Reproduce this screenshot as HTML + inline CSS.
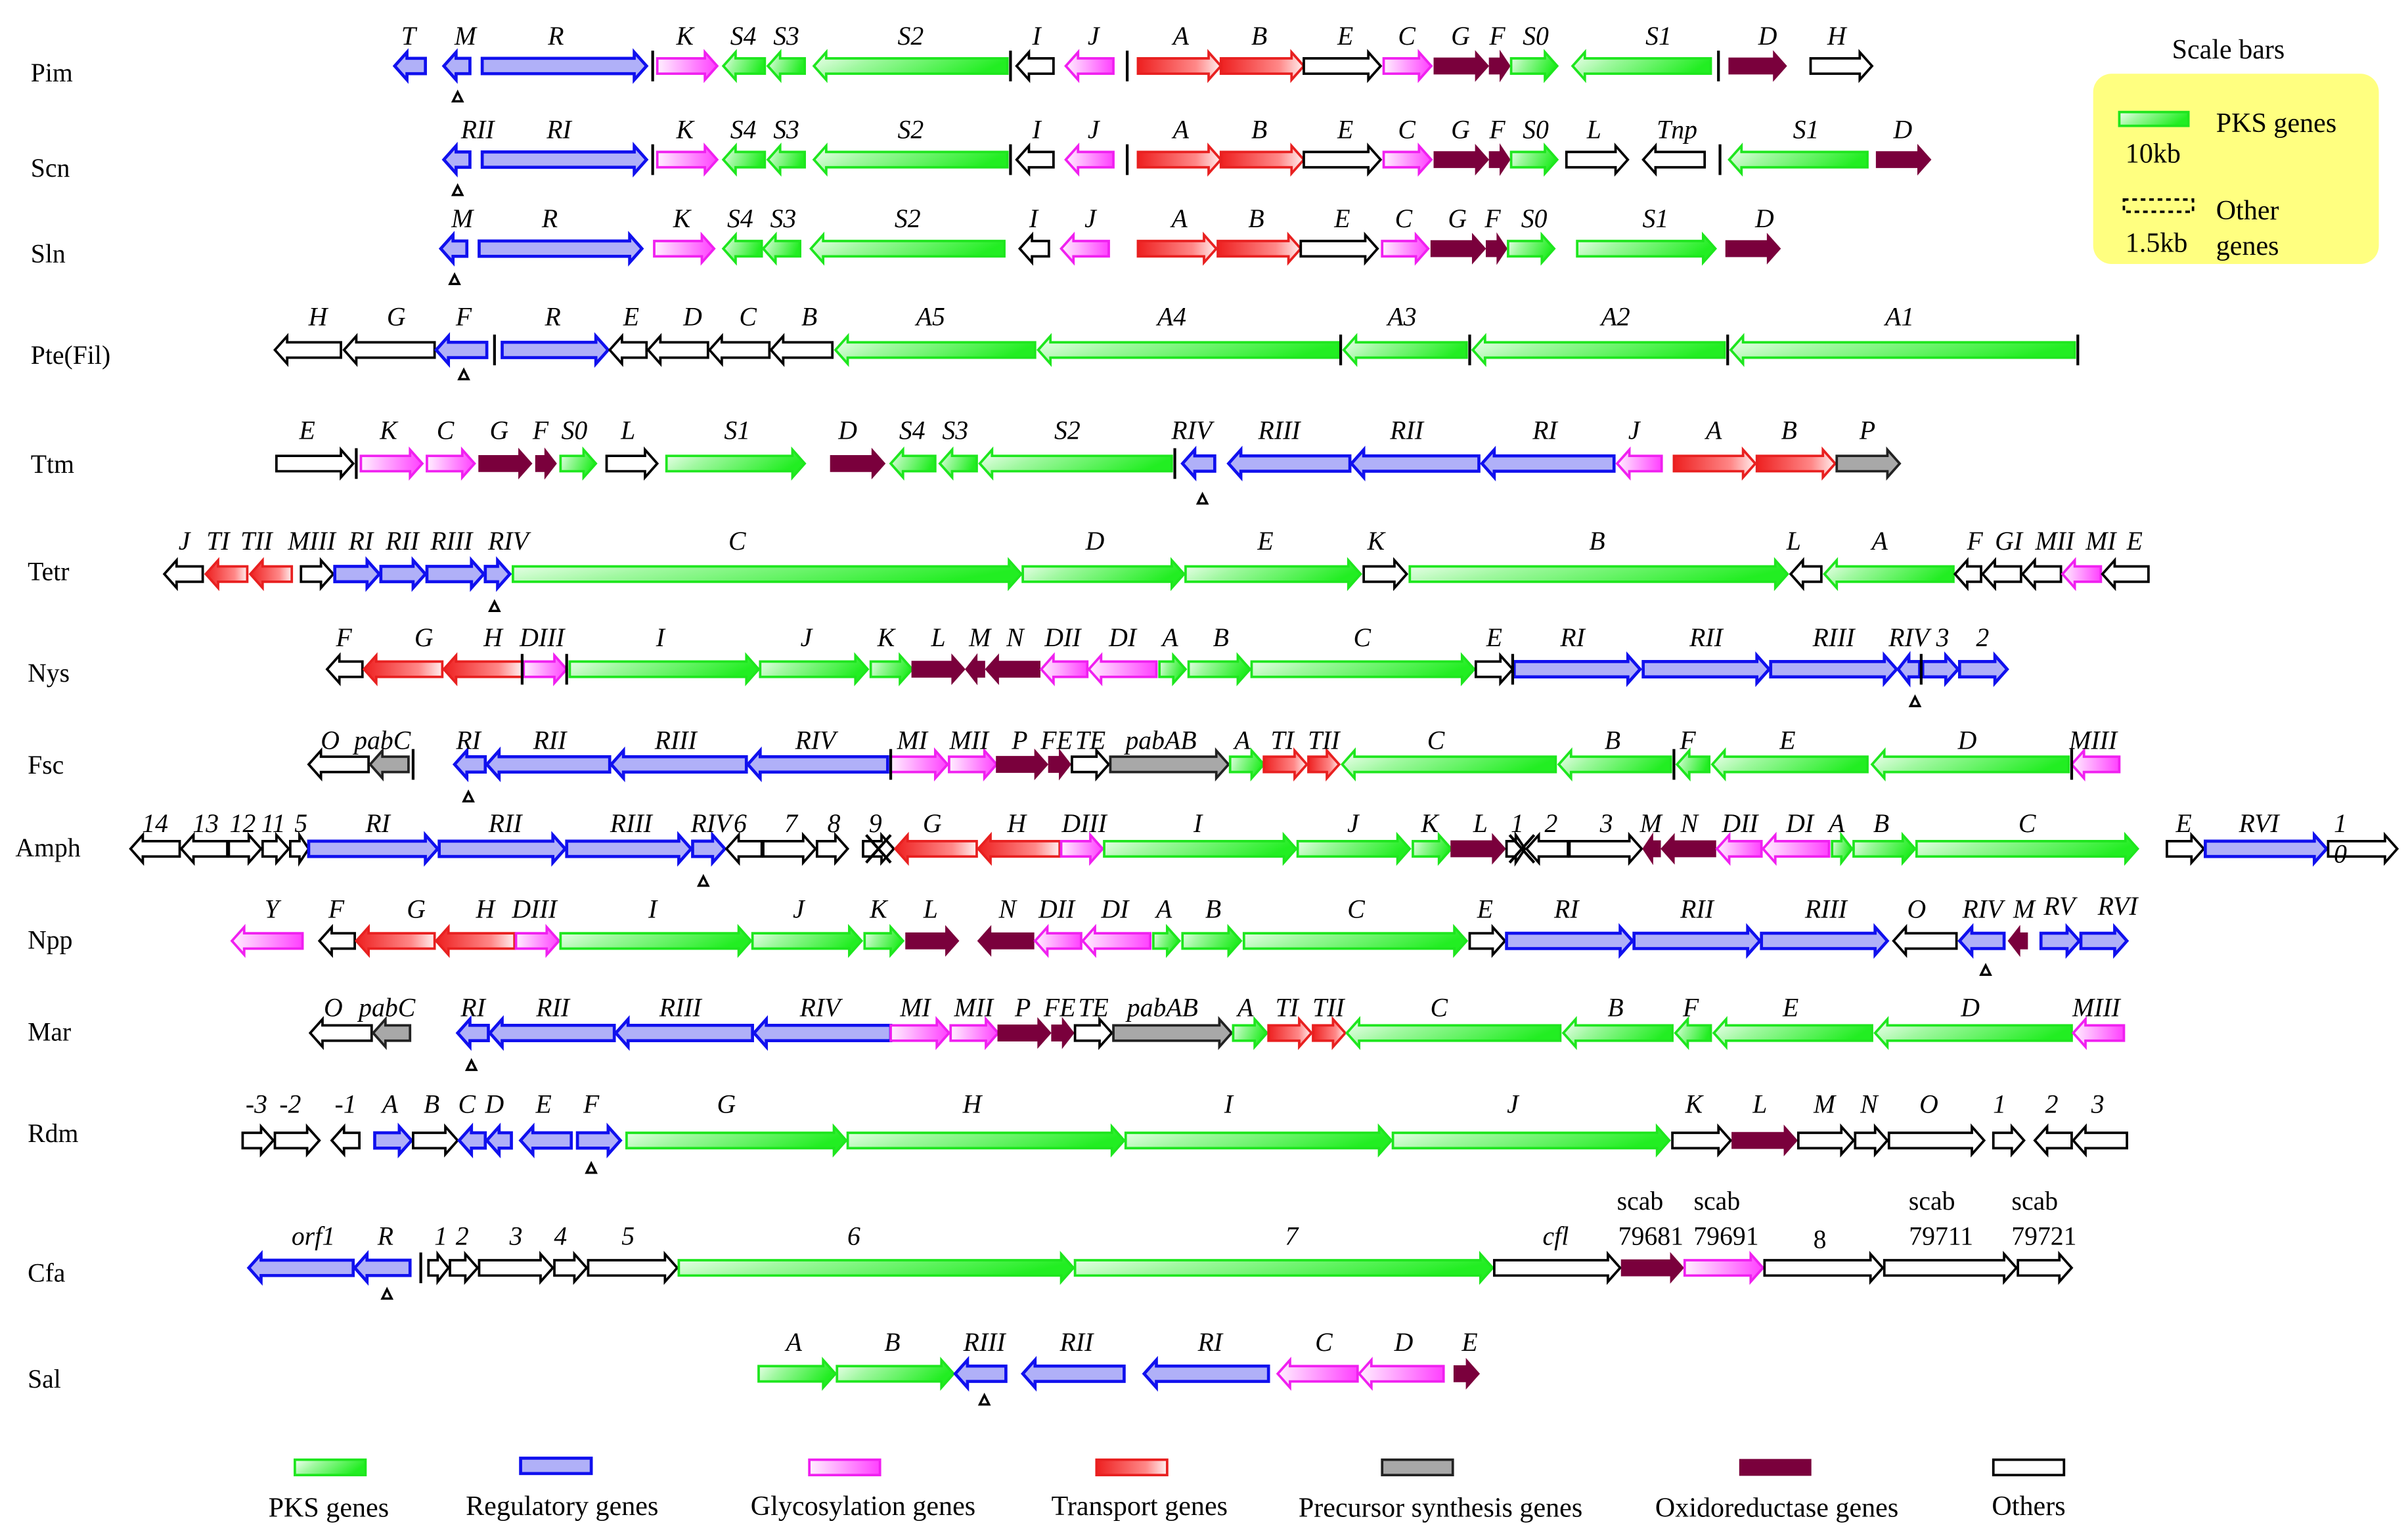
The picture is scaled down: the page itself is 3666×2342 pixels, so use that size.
<!DOCTYPE html>
<html><head><meta charset="utf-8"><style>
html,body{margin:0;padding:0;background:#fff;}
svg{display:block}
.g{fill:url(#gg);stroke:#1ee61e;stroke-width:1.6}
.b{fill:#b0b0f8;stroke:#1010ee;stroke-width:2}
.p{fill:url(#gp);stroke:#f020f0;stroke-width:1.6}
.r{fill:url(#gr);stroke:#e82020;stroke-width:1.6}
.m{fill:#7a003c;stroke:#7a003c;stroke-width:1}
.y{fill:#a8a8a8;stroke:#222;stroke-width:1.6}
.o{fill:#fff;stroke:#000;stroke-width:1.6}
text{font-family:"Liberation Serif",serif;fill:#000}
.l{font-style:italic;font-size:17px;text-anchor:middle}
.n{font-size:17px}
.t{fill:#fff;stroke:#000;stroke-width:1.5}
.bar{stroke:#000;stroke-width:1.8}
.lg{font-size:18px;text-anchor:middle}
</style></head><body>
<svg width="3666" height="2342" viewBox="0 0 1568 1002" preserveAspectRatio="none" xmlns="http://www.w3.org/2000/svg">
<defs>
<linearGradient id="gg" x1="0" y1="0" x2="1" y2="0.3"><stop offset="0" stop-color="#f4fff4"/><stop offset="0.35" stop-color="#9ff89f"/><stop offset="1" stop-color="#22ee22"/></linearGradient>
<linearGradient id="gp" x1="0" y1="0" x2="1" y2="0"><stop offset="0" stop-color="#fff0ff"/><stop offset="1" stop-color="#ff40ff"/></linearGradient>
<linearGradient id="gr" x1="0" y1="0" x2="1" y2="0"><stop offset="0" stop-color="#ee2020"/><stop offset="0.7" stop-color="#f88"/><stop offset="1" stop-color="#fff0f0"/></linearGradient>
</defs>

<g class="n">
<text x="20" y="53">Pim</text><text x="20" y="115">Scn</text><text x="20" y="171">Sln</text><text x="20" y="237">Pte(Fil)</text><text x="20" y="308">Ttm</text><text x="18" y="378">Tetr</text><text x="18" y="444">Nys</text><text x="18" y="504">Fsc</text><text x="10" y="558">Amph</text><text x="18" y="618">Npp</text><text x="18" y="678">Mar</text><text x="18" y="744">Rdm</text><text x="18" y="835">Cfa</text><text x="18" y="904">Sal</text>
</g>

<!-- Pim -->
<g transform="translate(0,43)">
<path class="b" d="M277 -5H265V-9L257 0L265 9V5H277Z"/>
<path class="b" d="M306 -5H297V-9L289 0L297 9V5H306Z"/>
<path class="b" d="M314 -5H413V-9L421 0L413 9V5H314Z"/>
<path class="p" d="M428 -5H459V-9L467 0L459 9V5H428Z"/>
<path class="g" d="M498 -5H479V-9L471 0L479 9V5H498Z"/>
<path class="g" d="M524 -5H508V-9L500 0L508 9V5H524Z"/>
<path class="g" d="M656 -5H538V-9L530 0L538 9V5H656Z"/>
<path class="o" d="M686 -5H670V-9L662 0L670 9V5H686Z"/>
<path class="p" d="M725 -5H702V-9L694 0L702 9V5H725Z"/>
<path class="r" d="M741 -5H787V-9L795 0L787 9V5H741Z"/>
<path class="r" d="M795 -5H841V-9L849 0L841 9V5H795Z"/>
<path class="o" d="M849 -5H891V-9L899 0L891 9V5H849Z"/>
<path class="p" d="M901 -5H924V-9L932 0L924 9V5H901Z"/>
<path class="m" d="M934 -5H961V-9L969 0L961 9V5H934Z"/>
<path class="m" d="M970 -5H977V-9L983 0L977 9V5H970Z"/>
<path class="g" d="M984 -5H1006V-9L1014 0L1006 9V5H984Z"/>
<path class="g" d="M1114 -5H1032V-9L1024 0L1032 9V5H1114Z"/>
<path class="m" d="M1126 -5H1155V-9L1163 0L1155 9V5H1126Z"/>
<path class="o" d="M1179 -5H1211V-9L1219 0L1211 9V5H1179Z"/>
<path class="bar" d="M425 -10V10M658 -10V10M734 -10V10M1119 -10V10"/>
<polygon class="t" points="295,23 298,17 301,23"/>
<g class="l"><text x="266" y="-14">T</text><text x="303" y="-14">M</text><text x="362" y="-14">R</text><text x="446" y="-14">K</text><text x="484" y="-14">S4</text><text x="512" y="-14">S3</text><text x="593" y="-14">S2</text><text x="675" y="-14">I</text><text x="712" y="-14">J</text><text x="769" y="-14">A</text><text x="820" y="-14">B</text><text x="876" y="-14">E</text><text x="916" y="-14">C</text><text x="951" y="-14">G</text><text x="975" y="-14">F</text><text x="1000" y="-14">S0</text><text x="1080" y="-14">S1</text><text x="1151" y="-14">D</text><text x="1196" y="-14">H</text></g>
</g>

<!-- Scn -->
<g transform="translate(0,104)">
<path class="b" d="M306 -5H297V-9L289 0L297 9V5H306Z"/>
<path class="b" d="M314 -5H413V-9L421 0L413 9V5H314Z"/>
<path class="p" d="M428 -5H459V-9L467 0L459 9V5H428Z"/>
<path class="g" d="M498 -5H479V-9L471 0L479 9V5H498Z"/>
<path class="g" d="M524 -5H508V-9L500 0L508 9V5H524Z"/>
<path class="g" d="M656 -5H538V-9L530 0L538 9V5H656Z"/>
<path class="o" d="M686 -5H670V-9L662 0L670 9V5H686Z"/>
<path class="p" d="M725 -5H702V-9L694 0L702 9V5H725Z"/>
<path class="r" d="M741 -5H787V-9L795 0L787 9V5H741Z"/>
<path class="r" d="M795 -5H841V-9L849 0L841 9V5H795Z"/>
<path class="o" d="M849 -5H891V-9L899 0L891 9V5H849Z"/>
<path class="p" d="M901 -5H924V-9L932 0L924 9V5H901Z"/>
<path class="m" d="M934 -5H961V-9L969 0L961 9V5H934Z"/>
<path class="m" d="M970 -5H977V-9L983 0L977 9V5H970Z"/>
<path class="g" d="M984 -5H1006V-9L1014 0L1006 9V5H984Z"/>
<path class="o" d="M1020 -5H1052V-9L1060 0L1052 9V5H1020Z"/>
<path class="o" d="M1110 -5H1078V-9L1070 0L1078 9V5H1110Z"/>
<path class="g" d="M1216 -5H1134V-9L1126 0L1134 9V5H1216Z"/>
<path class="m" d="M1222 -5H1249V-9L1257 0L1249 9V5H1222Z"/>
<path class="bar" d="M425 -10V10M658 -10V10M734 -10V10M1120 -10V10"/>
<polygon class="t" points="295,23 298,17 301,23"/>
<g class="l"><text x="311" y="-14">RII</text><text x="364" y="-14">RI</text><text x="446" y="-14">K</text><text x="484" y="-14">S4</text><text x="512" y="-14">S3</text><text x="593" y="-14">S2</text><text x="675" y="-14">I</text><text x="712" y="-14">J</text><text x="769" y="-14">A</text><text x="820" y="-14">B</text><text x="876" y="-14">E</text><text x="916" y="-14">C</text><text x="951" y="-14">G</text><text x="975" y="-14">F</text><text x="1000" y="-14">S0</text><text x="1038" y="-14">L</text><text x="1092" y="-14">Tnp</text><text x="1176" y="-14">S1</text><text x="1239" y="-14">D</text></g>
</g>

<!-- Sln -->
<g transform="translate(0,162)">
<path class="b" d="M304 -5H295V-9L287 0L295 9V5H304Z"/>
<path class="b" d="M312 -5H410V-9L418 0L410 9V5H312Z"/>
<path class="p" d="M426 -5H457V-9L465 0L457 9V5H426Z"/>
<path class="g" d="M496 -5H479V-9L471 0L479 9V5H496Z"/>
<path class="g" d="M521 -5H505V-9L497 0L505 9V5H521Z"/>
<path class="g" d="M654 -5H536V-9L528 0L536 9V5H654Z"/>
<path class="o" d="M683 -5H672V-9L664 0L672 9V5H683Z"/>
<path class="p" d="M722 -5H699V-9L691 0L699 9V5H722Z"/>
<path class="r" d="M741 -5H784V-9L792 0L784 9V5H741Z"/>
<path class="r" d="M793 -5H839V-9L847 0L839 9V5H793Z"/>
<path class="o" d="M847 -5H889V-9L897 0L889 9V5H847Z"/>
<path class="p" d="M900 -5H922V-9L930 0L922 9V5H900Z"/>
<path class="m" d="M932 -5H959V-9L967 0L959 9V5H932Z"/>
<path class="m" d="M968 -5H975V-9L981 0L975 9V5H968Z"/>
<path class="g" d="M982 -5H1004V-9L1012 0L1004 9V5H982Z"/>
<path class="g" d="M1027 -5H1109V-9L1117 0L1109 9V5H1027Z"/>
<path class="m" d="M1124 -5H1151V-9L1159 0L1151 9V5H1124Z"/>
<polygon class="t" points="293,23 296,17 299,23"/>
<g class="l"><text x="301" y="-14">M</text><text x="358" y="-14">R</text><text x="444" y="-14">K</text><text x="482" y="-14">S4</text><text x="510" y="-14">S3</text><text x="591" y="-14">S2</text><text x="673" y="-14">I</text><text x="710" y="-14">J</text><text x="768" y="-14">A</text><text x="818" y="-14">B</text><text x="874" y="-14">E</text><text x="914" y="-14">C</text><text x="949" y="-14">G</text><text x="972" y="-14">F</text><text x="999" y="-14">S0</text><text x="1078" y="-14">S1</text><text x="1149" y="-14">D</text></g>
</g>

<!-- Pte -->
<g transform="translate(0,228)">
<path class="o" d="M222 -5H187V-9L179 0L187 9V5H222Z"/>
<path class="o" d="M283 -5H232V-9L224 0L232 9V5H283Z"/>
<path class="b" d="M317 -5H292V-9L284 0L292 9V5H317Z"/>
<path class="b" d="M327 -5H388V-9L396 0L388 9V5H327Z"/>
<path class="o" d="M421 -5H405V-9L397 0L405 9V5H421Z"/>
<path class="o" d="M461 -5H430V-9L422 0L430 9V5H461Z"/>
<path class="o" d="M501 -5H470V-9L462 0L470 9V5H501Z"/>
<path class="o" d="M542 -5H510V-9L502 0L510 9V5H542Z"/>
<path class="g" d="M674 -5H552V-9L544 0L552 9V5H674Z"/>
<path class="g" d="M872 -5H684V-9L676 0L684 9V5H872Z"/>
<path class="g" d="M955 -5H883V-9L875 0L883 9V5H955Z"/>
<path class="g" d="M1123 -5H967V-9L959 0L967 9V5H1123Z"/>
<path class="g" d="M1351 -5H1135V-9L1127 0L1135 9V5H1351Z"/>
<path class="bar" d="M322 -10V10M873 -10V10M957 -10V10M1125 -10V10M1353 -10V10"/>
<polygon class="t" points="299,19 302,13 305,19"/>
<g class="l"><text x="207" y="-16">H</text><text x="258" y="-16">G</text><text x="302" y="-16">F</text><text x="360" y="-16">R</text><text x="411" y="-16">E</text><text x="451" y="-16">D</text><text x="487" y="-16">C</text><text x="527" y="-16">B</text><text x="606" y="-16">A5</text><text x="763" y="-16">A4</text><text x="913" y="-16">A3</text><text x="1052" y="-16">A2</text><text x="1237" y="-16">A1</text></g>
</g>

<!-- Ttm -->
<g transform="translate(0,302)">
<path class="o" d="M180 -5H222V-9L230 0L222 9V5H180Z"/>
<path class="p" d="M235 -5H267V-9L275 0L267 9V5H235Z"/>
<path class="p" d="M278 -5H301V-9L309 0L301 9V5H278Z"/>
<path class="m" d="M312 -5H338V-9L346 0L338 9V5H312Z"/>
<path class="m" d="M349 -5H355V-9L362 0L355 9V5H349Z"/>
<path class="g" d="M365 -5H380V-9L388 0L380 9V5H365Z"/>
<path class="o" d="M395 -5H420V-9L428 0L420 9V5H395Z"/>
<path class="g" d="M434 -5H516V-9L524 0L516 9V5H434Z"/>
<path class="m" d="M541 -5H568V-9L576 0L568 9V5H541Z"/>
<path class="g" d="M609 -5H588V-9L580 0L588 9V5H609Z"/>
<path class="g" d="M636 -5H620V-9L612 0L620 9V5H636Z"/>
<path class="g" d="M763 -5H646V-9L638 0L646 9V5H763Z"/>
<path class="b" d="M791 -5H778V-9L770 0L778 9V5H791Z"/>
<path class="b" d="M879 -5H808V-9L800 0L808 9V5H879Z"/>
<path class="b" d="M963 -5H888V-9L880 0L888 9V5H963Z"/>
<path class="b" d="M1051 -5H973V-9L965 0L973 9V5H1051Z"/>
<path class="p" d="M1082 -5H1061V-9L1053 0L1061 9V5H1082Z"/>
<path class="r" d="M1090 -5H1135V-9L1143 0L1135 9V5H1090Z"/>
<path class="r" d="M1144 -5H1187V-9L1195 0L1187 9V5H1144Z"/>
<path class="y" d="M1196 -5H1229V-9L1237 0L1229 9V5H1196Z"/>
<path class="bar" d="M232 -10V10M765 -10V10"/>
<polygon class="t" points="780,26 783,20 786,26"/>
<g class="l"><text x="200" y="-16">E</text><text x="253" y="-16">K</text><text x="290" y="-16">C</text><text x="325" y="-16">G</text><text x="352" y="-16">F</text><text x="374" y="-16">S0</text><text x="409" y="-16">L</text><text x="480" y="-16">S1</text><text x="552" y="-16">D</text><text x="594" y="-16">S4</text><text x="622" y="-16">S3</text><text x="695" y="-16">S2</text><text x="776" y="-16">RIV</text><text x="833" y="-16">RIII</text><text x="916" y="-16">RII</text><text x="1006" y="-16">RI</text><text x="1064" y="-16">J</text><text x="1116" y="-16">A</text><text x="1165" y="-16">B</text><text x="1216" y="-16">P</text></g>
</g>

<!-- Tetr -->
<g transform="translate(0,374)">
<path class="o" d="M132 -5H115V-9L107 0L115 9V5H132Z"/>
<path class="r" d="M161 -5H142V-9L134 0L142 9V5H161Z"/>
<path class="r" d="M190 -5H171V-9L163 0L171 9V5H190Z"/>
<path class="o" d="M196 -5H209V-9L217 0L209 9V5H196Z"/>
<path class="b" d="M218 -5H239V-9L247 0L239 9V5H218Z"/>
<path class="b" d="M248 -5H269V-9L277 0L269 9V5H248Z"/>
<path class="b" d="M278 -5H307V-9L315 0L307 9V5H278Z"/>
<path class="b" d="M316 -5H324V-9L332 0L324 9V5H316Z"/>
<path class="g" d="M334 -5H657V-9L665 0L657 9V5H334Z"/>
<path class="g" d="M666 -5H763V-9L771 0L763 9V5H666Z"/>
<path class="g" d="M772 -5H878V-9L886 0L878 9V5H772Z"/>
<path class="o" d="M888 -5H908V-9L916 0L908 9V5H888Z"/>
<path class="g" d="M918 -5H1156V-9L1164 0L1156 9V5H918Z"/>
<path class="o" d="M1186 -5H1174V-9L1166 0L1174 9V5H1186Z"/>
<path class="g" d="M1272 -5H1196V-9L1188 0L1196 9V5H1272Z"/>
<path class="o" d="M1290 -5H1281V-9L1273 0L1281 9V5H1290Z"/>
<path class="o" d="M1316 -5H1299V-9L1291 0L1299 9V5H1316Z"/>
<path class="o" d="M1342 -5H1325V-9L1317 0L1325 9V5H1342Z"/>
<path class="p" d="M1368 -5H1351V-9L1343 0L1351 9V5H1368Z"/>
<path class="o" d="M1399 -5H1377V-9L1369 0L1377 9V5H1399Z"/>
<polygon class="t" points="319,24 322,18 325,24"/>
<g class="l"><text x="120" y="-16">J</text><text x="142" y="-16">TI</text><text x="167" y="-16">TII</text><text x="203" y="-16">MIII</text><text x="235" y="-16">RI</text><text x="262" y="-16">RII</text><text x="294" y="-16">RIII</text><text x="331" y="-16">RIV</text><text x="480" y="-16">C</text><text x="713" y="-16">D</text><text x="824" y="-16">E</text><text x="896" y="-16">K</text><text x="1040" y="-16">B</text><text x="1168" y="-16">L</text><text x="1224" y="-16">A</text><text x="1286" y="-16">F</text><text x="1308" y="-16">GI</text><text x="1338" y="-16">MII</text><text x="1368" y="-16">MI</text><text x="1390" y="-16">E</text></g>
</g>

<!-- Nys -->
<g transform="translate(0,436)">
<path class="o" d="M236 -5H221V-9L213 0L221 9V5H236Z"/>
<path class="r" d="M288 -5H245V-9L237 0L245 9V5H288Z"/>
<path class="r" d="M340 -5H297V-9L289 0L297 9V5H340Z"/>
<path class="p" d="M341 -5H361V-9L369 0L361 9V5H341Z"/>
<path class="g" d="M371 -5H486V-9L494 0L486 9V5H371Z"/>
<path class="g" d="M495 -5H557V-9L565 0L557 9V5H495Z"/>
<path class="g" d="M567 -5H586V-9L594 0L586 9V5H567Z"/>
<path class="m" d="M594 -5H620V-9L628 0L620 9V5H594Z"/>
<path class="m" d="M641 -5H636V-9L629 0L636 9V5H641Z"/>
<path class="m" d="M677 -5H650V-9L642 0L650 9V5H677Z"/>
<path class="p" d="M708 -5H686V-9L678 0L686 9V5H708Z"/>
<path class="p" d="M753 -5H717V-9L709 0L717 9V5H753Z"/>
<path class="g" d="M755 -5H764V-9L772 0L764 9V5H755Z"/>
<path class="g" d="M774 -5H806V-9L814 0L806 9V5H774Z"/>
<path class="g" d="M815 -5H952V-9L960 0L952 9V5H815Z"/>
<path class="o" d="M961 -5H977V-9L985 0L977 9V5H961Z"/>
<path class="b" d="M986 -5H1060V-9L1068 0L1060 9V5H986Z"/>
<path class="b" d="M1070 -5H1144V-9L1152 0L1144 9V5H1070Z"/>
<path class="b" d="M1153 -5H1227V-9L1235 0L1227 9V5H1153Z"/>
<path class="b" d="M1250 -5H1243V-9L1236 0L1243 9V5H1250Z"/>
<path class="b" d="M1252 -5H1267V-9L1275 0L1267 9V5H1252Z"/>
<path class="b" d="M1276 -5H1299V-9L1307 0L1299 9V5H1276Z"/>
<path class="bar" d="M340 -10V10M369 -10V10M985 -10V10M1251 -10V10"/>
<polygon class="t" points="1244,24 1247,18 1250,24"/>
<g class="l"><text x="224" y="-15">F</text><text x="276" y="-15">G</text><text x="321" y="-15">H</text><text x="353" y="-15">DIII</text><text x="430" y="-15">I</text><text x="525" y="-15">J</text><text x="577" y="-15">K</text><text x="611" y="-15">L</text><text x="638" y="-15">M</text><text x="661" y="-15">N</text><text x="692" y="-15">DII</text><text x="731" y="-15">DI</text><text x="762" y="-15">A</text><text x="795" y="-15">B</text><text x="887" y="-15">C</text><text x="973" y="-15">E</text><text x="1024" y="-15">RI</text><text x="1111" y="-15">RII</text><text x="1194" y="-15">RIII</text><text x="1243" y="-15">RIV</text><text x="1265" y="-15">3</text><text x="1291" y="-15">2</text></g>
</g>

<!-- Fsc -->
<g transform="translate(0,498)">
<path class="o" d="M240 -5H209V-9L201 0L209 9V5H240Z"/>
<path class="y" d="M266 -5H249V-9L241 0L249 9V5H266Z"/>
<path class="b" d="M316 -5H304V-9L296 0L304 9V5H316Z"/>
<path class="b" d="M397 -5H325V-9L317 0L325 9V5H397Z"/>
<path class="b" d="M486 -5H406V-9L398 0L406 9V5H486Z"/>
<path class="b" d="M578 -5H495V-9L487 0L495 9V5H578Z"/>
<path class="p" d="M580 -5H609V-9L617 0L609 9V5H580Z"/>
<path class="p" d="M618 -5H641V-9L649 0L641 9V5H618Z"/>
<path class="m" d="M649 -5H674V-9L682 0L674 9V5H649Z"/>
<path class="m" d="M683 -5H690V-9L697 0L690 9V5H683Z"/>
<path class="o" d="M698 -5H714V-9L722 0L714 9V5H698Z"/>
<path class="y" d="M723 -5H792V-9L800 0L792 9V5H723Z"/>
<path class="g" d="M801 -5H815V-9L823 0L815 9V5H801Z"/>
<path class="r" d="M823 -5H843V-9L851 0L843 9V5H823Z"/>
<path class="r" d="M852 -5H864V-9L872 0L864 9V5H852Z"/>
<path class="g" d="M1013 -5H882V-9L874 0L882 9V5H1013Z"/>
<path class="g" d="M1088 -5H1023V-9L1015 0L1023 9V5H1088Z"/>
<path class="g" d="M1113 -5H1100V-9L1092 0L1100 9V5H1113Z"/>
<path class="g" d="M1216 -5H1123V-9L1115 0L1123 9V5H1216Z"/>
<path class="g" d="M1347 -5H1227V-9L1219 0L1227 9V5H1347Z"/>
<path class="p" d="M1380 -5H1357V-9L1349 0L1357 9V5H1380Z"/>
<path class="bar" d="M269 -10V10M580 -10V10M1090 -10V10M1349 -10V10"/>
<polygon class="t" points="302,24 305,18 308,24"/>
<g class="l"><text x="215" y="-10">O</text><text x="249" y="-10">pabC</text><text x="305" y="-10">RI</text><text x="358" y="-10">RII</text><text x="440" y="-10">RIII</text><text x="531" y="-10">RIV</text><text x="594" y="-10">MI</text><text x="631" y="-10">MII</text><text x="664" y="-10">P</text><text x="688" y="-10">FE</text><text x="710" y="-10">TE</text><text x="756" y="-10">pabAB</text><text x="809" y="-10">A</text><text x="835" y="-10">TI</text><text x="862" y="-10">TII</text><text x="935" y="-10">C</text><text x="1050" y="-10">B</text><text x="1099" y="-10">F</text><text x="1164" y="-10">E</text><text x="1281" y="-10">D</text><text x="1363" y="-10">MIII</text></g>
</g>

<!-- Amph -->
<g transform="translate(0,553)">
<path class="o" d="M117 -5H93V-9L85 0L93 9V5H117Z"/>
<path class="o" d="M148 -5H126V-9L118 0L126 9V5H148Z"/>
<path class="o" d="M149 -5H162V-9L170 0L162 9V5H149Z"/>
<path class="o" d="M171 -5H180V-9L188 0L180 9V5H171Z"/>
<path class="o" d="M189 -5H195V-9L201 0L195 9V5H189Z"/>
<path class="b" d="M201 -5H277V-9L285 0L277 9V5H201Z"/>
<path class="b" d="M286 -5H360V-9L368 0L360 9V5H286Z"/>
<path class="b" d="M369 -5H442V-9L450 0L442 9V5H369Z"/>
<path class="b" d="M451 -5H464V-9L472 0L464 9V5H451Z"/>
<path class="o" d="M496 -5H481V-9L473 0L481 9V5H496Z"/>
<path class="o" d="M497 -5H523V-9L531 0L523 9V5H497Z"/>
<path class="o" d="M532 -5H544V-9L552 0L544 9V5H532Z"/>
<path class="o" d="M562 -5H574V-9L582 0L574 9V5H562Z"/>
<path class="r" d="M636 -5H591V-9L583 0L591 9V5H636Z"/>
<path class="r" d="M690 -5H645V-9L637 0L645 9V5H690Z"/>
<path class="p" d="M691 -5H710V-9L718 0L710 9V5H691Z"/>
<path class="g" d="M719 -5H836V-9L844 0L836 9V5H719Z"/>
<path class="g" d="M845 -5H910V-9L918 0L910 9V5H845Z"/>
<path class="g" d="M920 -5H937V-9L945 0L937 9V5H920Z"/>
<path class="m" d="M945 -5H972V-9L980 0L972 9V5H945Z"/>
<path class="o" d="M981 -5H987V-9L993 0L987 9V5H981Z"/>
<path class="o" d="M1021 -5H1002V-9L994 0L1002 9V5H1021Z"/>
<path class="o" d="M1022 -5H1061V-9L1069 0L1061 9V5H1022Z"/>
<path class="m" d="M1081 -5H1076V-9L1070 0L1076 9V5H1081Z"/>
<path class="m" d="M1117 -5H1090V-9L1082 0L1090 9V5H1117Z"/>
<path class="p" d="M1147 -5H1126V-9L1118 0L1126 9V5H1147Z"/>
<path class="p" d="M1191 -5H1156V-9L1148 0L1156 9V5H1191Z"/>
<path class="g" d="M1193 -5H1199V-9L1206 0L1199 9V5H1193Z"/>
<path class="g" d="M1207 -5H1239V-9L1247 0L1239 9V5H1207Z"/>
<path class="g" d="M1248 -5H1384V-9L1392 0L1384 9V5H1248Z"/>
<path class="o" d="M1411 -5H1427V-9L1435 0L1427 9V5H1411Z"/>
<path class="b" d="M1436 -5H1507V-9L1515 0L1507 9V5H1436Z"/>
<path class="o" d="M1516 -5H1553V-9L1561 0L1553 9V5H1516Z"/>
<path class="bar" d="M564 -9L580 9M564 9L580 -9M983 -9L999 9M983 9L999 -9"/>
<polygon class="t" points="455,24 458,18 461,24"/>
<g class="l"><text x="101" y="-11">14</text><text x="134" y="-11">13</text><text x="158" y="-11">12</text><text x="178" y="-11">11</text><text x="196" y="-11">5</text><text x="246" y="-11">RI</text><text x="329" y="-11">RII</text><text x="411" y="-11">RIII</text><text x="463" y="-11">RIV</text><text x="482" y="-11">6</text><text x="515" y="-11">7</text><text x="543" y="-11">8</text><text x="570" y="-11">9</text><text x="607" y="-11">G</text><text x="662" y="-11">H</text><text x="706" y="-11">DIII</text><text x="780" y="-11">I</text><text x="881" y="-11">J</text><text x="931" y="-11">K</text><text x="964" y="-11">L</text><text x="988" y="-11">1</text><text x="1010" y="-11">2</text><text x="1046" y="-11">3</text><text x="1075" y="-11">M</text><text x="1100" y="-11">N</text><text x="1133" y="-11">DII</text><text x="1172" y="-11">DI</text><text x="1196" y="-11">A</text><text x="1225" y="-11">B</text><text x="1320" y="-11">C</text><text x="1422" y="-11">E</text><text x="1471" y="-11">RVI</text><text x="1524" y="-11">1</text><text x="1524" y="9">0</text></g>
</g>

<!-- Npp -->
<g transform="translate(0,613)">
<path class="p" d="M197 -5H159V-9L151 0L159 9V5H197Z"/>
<path class="o" d="M231 -5H216V-9L208 0L216 9V5H231Z"/>
<path class="r" d="M283 -5H240V-9L232 0L240 9V5H283Z"/>
<path class="r" d="M335 -5H292V-9L284 0L292 9V5H335Z"/>
<path class="p" d="M336 -5H356V-9L364 0L356 9V5H336Z"/>
<path class="g" d="M365 -5H481V-9L489 0L481 9V5H365Z"/>
<path class="g" d="M490 -5H553V-9L561 0L553 9V5H490Z"/>
<path class="g" d="M563 -5H580V-9L588 0L580 9V5H563Z"/>
<path class="m" d="M590 -5H616V-9L624 0L616 9V5H590Z"/>
<path class="m" d="M673 -5H645V-9L637 0L645 9V5H673Z"/>
<path class="p" d="M704 -5H682V-9L674 0L682 9V5H704Z"/>
<path class="p" d="M749 -5H713V-9L705 0L713 9V5H749Z"/>
<path class="g" d="M751 -5H760V-9L768 0L760 9V5H751Z"/>
<path class="g" d="M770 -5H800V-9L808 0L800 9V5H770Z"/>
<path class="g" d="M810 -5H947V-9L955 0L947 9V5H810Z"/>
<path class="o" d="M957 -5H972V-9L980 0L972 9V5H957Z"/>
<path class="b" d="M981 -5H1055V-9L1063 0L1055 9V5H981Z"/>
<path class="b" d="M1064 -5H1138V-9L1146 0L1138 9V5H1064Z"/>
<path class="b" d="M1147 -5H1221V-9L1229 0L1221 9V5H1147Z"/>
<path class="o" d="M1274 -5H1241V-9L1233 0L1241 9V5H1274Z"/>
<path class="b" d="M1305 -5H1284V-9L1276 0L1284 9V5H1305Z"/>
<path class="m" d="M1320 -5H1315V-9L1308 0L1315 9V5H1320Z"/>
<path class="b" d="M1329 -5H1346V-9L1354 0L1346 9V5H1329Z"/>
<path class="b" d="M1355 -5H1377V-9L1385 0L1377 9V5H1355Z"/>
<polygon class="t" points="1290,22 1293,16 1296,22"/>
<g class="l"><text x="177" y="-15">Y</text><text x="219" y="-15">F</text><text x="271" y="-15">G</text><text x="316" y="-15">H</text><text x="348" y="-15">DIII</text><text x="425" y="-15">I</text><text x="520" y="-15">J</text><text x="572" y="-15">K</text><text x="606" y="-15">L</text><text x="656" y="-15">N</text><text x="688" y="-15">DII</text><text x="726" y="-15">DI</text><text x="758" y="-15">A</text><text x="790" y="-15">B</text><text x="883" y="-15">C</text><text x="967" y="-15">E</text><text x="1020" y="-15">RI</text><text x="1105" y="-15">RII</text><text x="1189" y="-15">RIII</text><text x="1248" y="-15">O</text><text x="1291" y="-15">RIV</text><text x="1318" y="-15">M</text><text x="1341" y="-17">RV</text><text x="1379" y="-17">RVI</text></g>
</g>

<!-- Mar -->
<g transform="translate(0,673)">
<path class="o" d="M242 -5H210V-9L202 0L210 9V5H242Z"/>
<path class="y" d="M267 -5H251V-9L243 0L251 9V5H267Z"/>
<path class="b" d="M318 -5H306V-9L298 0L306 9V5H318Z"/>
<path class="b" d="M400 -5H327V-9L319 0L327 9V5H400Z"/>
<path class="b" d="M490 -5H409V-9L401 0L409 9V5H490Z"/>
<path class="b" d="M580 -5H499V-9L491 0L499 9V5H580Z"/>
<path class="p" d="M580 -5H610V-9L618 0L610 9V5H580Z"/>
<path class="p" d="M619 -5H642V-9L650 0L642 9V5H619Z"/>
<path class="m" d="M650 -5H676V-9L684 0L676 9V5H650Z"/>
<path class="m" d="M685 -5H692V-9L699 0L692 9V5H685Z"/>
<path class="o" d="M700 -5H716V-9L724 0L716 9V5H700Z"/>
<path class="y" d="M725 -5H794V-9L802 0L794 9V5H725Z"/>
<path class="g" d="M803 -5H817V-9L825 0L817 9V5H803Z"/>
<path class="r" d="M826 -5H846V-9L854 0L846 9V5H826Z"/>
<path class="r" d="M855 -5H868V-9L876 0L868 9V5H855Z"/>
<path class="g" d="M1016 -5H885V-9L877 0L885 9V5H1016Z"/>
<path class="g" d="M1089 -5H1026V-9L1018 0L1026 9V5H1089Z"/>
<path class="g" d="M1114 -5H1099V-9L1091 0L1099 9V5H1114Z"/>
<path class="g" d="M1219 -5H1124V-9L1116 0L1124 9V5H1219Z"/>
<path class="g" d="M1349 -5H1229V-9L1221 0L1229 9V5H1349Z"/>
<path class="p" d="M1383 -5H1358V-9L1350 0L1358 9V5H1383Z"/>
<polygon class="t" points="304,24 307,18 310,24"/>
<g class="l"><text x="217" y="-11">O</text><text x="252" y="-11">pabC</text><text x="308" y="-11">RI</text><text x="360" y="-11">RII</text><text x="443" y="-11">RIII</text><text x="534" y="-11">RIV</text><text x="596" y="-11">MI</text><text x="634" y="-11">MII</text><text x="666" y="-11">P</text><text x="690" y="-11">FE</text><text x="712" y="-11">TE</text><text x="757" y="-11">pabAB</text><text x="811" y="-11">A</text><text x="838" y="-11">TI</text><text x="865" y="-11">TII</text><text x="937" y="-11">C</text><text x="1052" y="-11">B</text><text x="1101" y="-11">F</text><text x="1166" y="-11">E</text><text x="1283" y="-11">D</text><text x="1365" y="-11">MIII</text></g>
</g>

<!-- Rdm -->
<g transform="translate(0,743)">
<path class="o" d="M158 -5H170V-9L178 0L170 9V5H158Z"/>
<path class="o" d="M179 -5H200V-9L208 0L200 9V5H179Z"/>
<path class="o" d="M234 -5H224V-9L216 0L224 9V5H234Z"/>
<path class="b" d="M244 -5H260V-9L268 0L260 9V5H244Z"/>
<path class="o" d="M269 -5H290V-9L298 0L290 9V5H269Z"/>
<path class="b" d="M316 -5H307V-9L299 0L307 9V5H316Z"/>
<path class="b" d="M333 -5H325V-9L317 0L325 9V5H333Z"/>
<path class="b" d="M372 -5H347V-9L339 0L347 9V5H372Z"/>
<path class="b" d="M376 -5H396V-9L404 0L396 9V5H376Z"/>
<path class="g" d="M408 -5H543V-9L551 0L543 9V5H408Z"/>
<path class="g" d="M552 -5H724V-9L732 0L724 9V5H552Z"/>
<path class="g" d="M733 -5H898V-9L906 0L898 9V5H733Z"/>
<path class="g" d="M907 -5H1079V-9L1087 0L1079 9V5H907Z"/>
<path class="o" d="M1089 -5H1119V-9L1127 0L1119 9V5H1089Z"/>
<path class="m" d="M1128 -5H1162V-9L1170 0L1162 9V5H1128Z"/>
<path class="o" d="M1171 -5H1199V-9L1207 0L1199 9V5H1171Z"/>
<path class="o" d="M1208 -5H1221V-9L1229 0L1221 9V5H1208Z"/>
<path class="o" d="M1230 -5H1284V-9L1292 0L1284 9V5H1230Z"/>
<path class="o" d="M1298 -5H1310V-9L1318 0L1310 9V5H1298Z"/>
<path class="o" d="M1349 -5H1333V-9L1325 0L1333 9V5H1349Z"/>
<path class="o" d="M1385 -5H1358V-9L1350 0L1358 9V5H1385Z"/>
<polygon class="t" points="382,21 385,15 388,21"/>
<g class="l"><text x="167" y="-18">-3</text><text x="189" y="-18">-2</text><text x="225" y="-18">-1</text><text x="254" y="-18">A</text><text x="281" y="-18">B</text><text x="304" y="-18">C</text><text x="322" y="-18">D</text><text x="354" y="-18">E</text><text x="385" y="-18">F</text><text x="473" y="-18">G</text><text x="633" y="-18">H</text><text x="800" y="-18">I</text><text x="985" y="-18">J</text><text x="1103" y="-18">K</text><text x="1146" y="-18">L</text><text x="1188" y="-18">M</text><text x="1217" y="-18">N</text><text x="1256" y="-18">O</text><text x="1302" y="-18">1</text><text x="1336" y="-18">2</text><text x="1366" y="-18">3</text></g>
</g>

<!-- Cfa -->
<g transform="translate(0,826)">
<path class="b" d="M230 -5H170V-9L162 0L170 9V5H230Z"/>
<path class="b" d="M267 -5H239V-9L231 0L239 9V5H267Z"/>
<path class="o" d="M279 -5H285V-9L292 0L285 9V5H279Z"/>
<path class="o" d="M293 -5H303V-9L311 0L303 9V5H293Z"/>
<path class="o" d="M312 -5H352V-9L360 0L352 9V5H312Z"/>
<path class="o" d="M361 -5H374V-9L382 0L374 9V5H361Z"/>
<path class="o" d="M383 -5H433V-9L441 0L433 9V5H383Z"/>
<path class="g" d="M442 -5H691V-9L699 0L691 9V5H442Z"/>
<path class="g" d="M700 -5H964V-9L972 0L964 9V5H700Z"/>
<path class="o" d="M973 -5H1047V-9L1055 0L1047 9V5H973Z"/>
<path class="m" d="M1056 -5H1088V-9L1096 0L1088 9V5H1056Z"/>
<path class="p" d="M1097 -5H1140V-9L1148 0L1140 9V5H1097Z"/>
<path class="o" d="M1149 -5H1218V-9L1226 0L1218 9V5H1149Z"/>
<path class="o" d="M1227 -5H1305V-9L1313 0L1305 9V5H1227Z"/>
<path class="o" d="M1314 -5H1341V-9L1349 0L1341 9V5H1314Z"/>
<path class="bar" d="M274 -10V10"/>
<polygon class="t" points="249,20 252,14 255,20"/>
<g class="l"><text x="204" y="-15">orf1</text><text x="251" y="-15">R</text><text x="287" y="-15">1</text><text x="301" y="-15">2</text><text x="336" y="-15">3</text><text x="365" y="-15">4</text><text x="409" y="-15">5</text><text x="556" y="-15">6</text><text x="841" y="-15">7</text><text x="1013" y="-15">cfl</text></g>
<g class="lg" style="font-size:17px"><text x="1185" y="-13">8</text><text x="1068" y="-38">scab</text><text x="1075" y="-15">79681</text><text x="1118" y="-38">scab</text><text x="1124" y="-15">79691</text><text x="1258" y="-38">scab</text><text x="1264" y="-15">79711</text><text x="1325" y="-38">scab</text><text x="1331" y="-15">79721</text></g>
</g>

<!-- Sal -->
<g transform="translate(0,895)">
<path class="g" d="M494 -5H536V-9L544 0L536 9V5H494Z"/>
<path class="g" d="M545 -5H613V-9L621 0L613 9V5H545Z"/>
<path class="b" d="M655 -5H630V-9L622 0L630 9V5H655Z"/>
<path class="b" d="M732 -5H674V-9L666 0L674 9V5H732Z"/>
<path class="b" d="M826 -5H753V-9L745 0L753 9V5H826Z"/>
<path class="p" d="M884 -5H840V-9L832 0L840 9V5H884Z"/>
<path class="p" d="M940 -5H893V-9L885 0L893 9V5H940Z"/>
<path class="m" d="M947 -5H955V-9L963 0L955 9V5H947Z"/>
<polygon class="t" points="638,20 641,14 644,20"/>
<g class="l"><text x="517" y="-15">A</text><text x="581" y="-15">B</text><text x="641" y="-15">RIII</text><text x="701" y="-15">RII</text><text x="788" y="-15">RI</text><text x="862" y="-15">C</text><text x="914" y="-15">D</text><text x="957" y="-15">E</text></g>
</g>

<!-- Bottom legend -->
<rect class="g" x="192" y="951" width="46" height="10"/>
<rect class="b" x="339" y="950" width="46" height="10"/>
<rect class="p" x="527" y="951" width="46" height="10"/>
<rect class="r" x="714" y="951" width="46" height="10"/>
<rect class="y" x="900" y="951" width="46" height="10"/>
<rect class="m" x="1133" y="951" width="46" height="10"/>
<rect class="o" x="1298" y="951" width="46" height="10"/>
<g class="lg"><text x="214" y="988">PKS genes</text><text x="366" y="987">Regulatory genes</text><text x="562" y="987">Glycosylation genes</text><text x="742" y="987">Transport genes</text><text x="938" y="988">Precursor synthesis genes</text><text x="1157" y="988">Oxidoreductase genes</text><text x="1321" y="987">Others</text></g>

<!-- Scale bars -->
<text x="1451" y="38" class="lg">Scale bars</text>
<rect x="1363" y="48" width="186" height="124" rx="12" fill="#ffff80"/>
<rect class="g" x="1380" y="73" width="45" height="9"/>
<text x="1443" y="86" style="font-size:18px">PKS genes</text>
<text x="1384" y="106" style="font-size:18px">10kb</text>
<rect x="1383" y="130" width="45" height="8" fill="none" stroke="#000" stroke-width="1.6" stroke-dasharray="3,2.5"/>
<text x="1443" y="143" style="font-size:18px">Other</text>
<text x="1384" y="164" style="font-size:18px">1.5kb</text>
<text x="1443" y="166" style="font-size:18px">genes</text>
</svg>
</body></html>
